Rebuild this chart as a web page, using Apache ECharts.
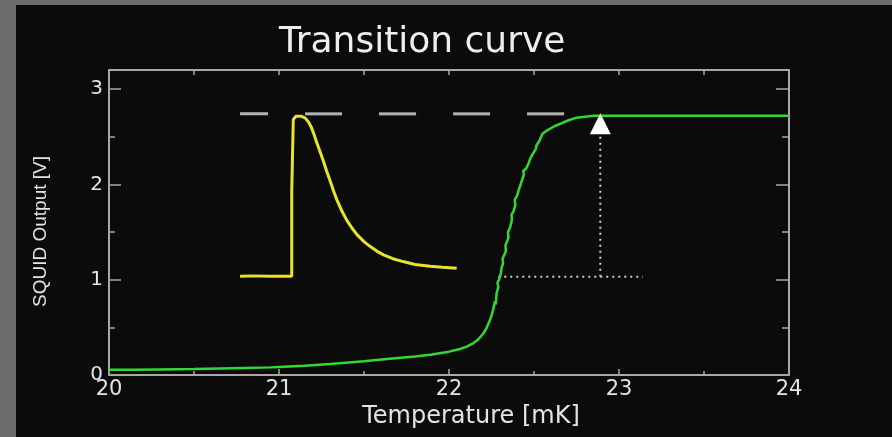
<!DOCTYPE html>
<html>
<head>
<meta charset="utf-8">
<script src="https://cdn.jsdelivr.net/npm/echarts@6/dist/echarts.min.js"></script>
<style>
  html, body { margin: 0; padding: 0; background: #6c6c6c; }
  #bg { position: absolute; left: 16px; top: 5px; width: 876px; height: 432px; background: #0b0b0b; }
  #chart { position: absolute; left: 0; top: 0; width: 892px; height: 437px; }
</style>
</head>
<body>
<div id="bg"></div>
<div id="chart"></div>
<script>
// ---- data ----
const titleText = 'Transition curve';
const xAxisTitle = 'Temperature [mK]';
const yAxisTitle = 'SQUID Output [V]';
const xTicks = [20, 21, 22, 23, 24];
const yTicks = [0, 1, 2, 3];

// Transition curve (green): temperature [mK] and SQUID output [V]
const greenT = [20.00, 20.15, 20.30, 20.50, 20.65, 20.80, 20.81, 20.95, 21.00, 21.15, 21.30, 21.31, 21.50, 21.65, 21.80, 21.90, 22.00, 22.06, 22.10, 22.14, 22.17, 22.20, 22.22, 22.235, 22.25, 22.26, 22.27, 22.275, 22.28, 22.29, 22.285, 22.295, 22.305, 22.31, 22.318, 22.315, 22.325, 22.335, 22.332, 22.34, 22.35, 22.347, 22.36, 22.37, 22.368, 22.38, 22.39, 22.387, 22.40, 22.41, 22.418, 22.425, 22.44, 22.437, 22.455, 22.47, 22.478, 22.49, 22.51, 22.515, 22.53, 22.55, 22.58, 22.62, 22.66, 22.70, 22.75, 22.80, 22.85, 23.00, 23.50, 24.00];
const greenV = [0.055, 0.055, 0.058, 0.062, 0.068, 0.074, 0.09, 0.08, 0.085, 0.097, 0.115, 0.13, 0.145, 0.17, 0.195, 0.215, 0.245, 0.27, 0.295, 0.33, 0.37, 0.43, 0.49, 0.55, 0.62, 0.69, 0.77, 0.74, 0.86, 0.92, 0.97, 1.00, 1.07, 1.13, 1.17, 1.22, 1.24, 1.30, 1.36, 1.38, 1.44, 1.50, 1.55, 1.63, 1.68, 1.72, 1.78, 1.84, 1.88, 1.94, 1.98, 2.02, 2.10, 2.14, 2.17, 2.23, 2.27, 2.31, 2.37, 2.41, 2.45, 2.53, 2.57, 2.61, 2.64, 2.67, 2.70, 2.71, 2.72, 2.72, 2.72, 2.72];

// Inset pulse (yellow), drawn in the same axes
const pulseT = [20.771, 20.85, 20.95, 21.02, 21.075, 21.075, 21.084, 21.084, 21.10, 21.13, 21.155, 21.175, 21.19, 21.205, 21.22, 21.24, 21.26, 21.28, 21.30, 21.32, 21.34, 21.37, 21.40, 21.43, 21.46, 21.50, 21.535, 21.575, 21.615, 21.67, 21.73, 21.80, 21.89, 21.96, 22.045];
const pulseV = [1.035, 1.04, 1.035, 1.037, 1.035, 1.93, 1.93, 2.68, 2.715, 2.715, 2.695, 2.65, 2.60, 2.53, 2.45, 2.35, 2.25, 2.14, 2.04, 1.935, 1.84, 1.72, 1.62, 1.54, 1.47, 1.40, 1.35, 1.30, 1.26, 1.22, 1.19, 1.16, 1.14, 1.13, 1.12];

// Saturation level (grey dashed line)
const satT = [20.771, 22.682];
const satV = [2.74, 2.74];

// Dotted construction lines and marker
const hDotT = [22.29, 23.14];
const hDotV = [1.03, 1.03];
const vDotT = [22.89, 22.89];
const vDotV = [1.03, 2.55];
const markerT = [22.89];
const markerV = [2.637];

const zip = (a, b) => a.map((v, i) => [v, b[i]]);

const chart = echarts.init(document.getElementById('chart'), null, { renderer: 'canvas' });
const frameColor = '#a8a8a8';
const textColor = '#e4e4e4';
const font = 'DejaVu Sans';

const option = {
  animation: false,
  backgroundColor: 'transparent',
  title: {
    text: titleText,
    left: 274,
    top: 20,
    textStyle: { color: '#eeeeee', fontSize: 36, fontWeight: 'normal', fontFamily: font }
  },
  grid: { left: 109, right: 103, top: 70, bottom: 62, containLabel: false },
  xAxis: [
    {
      type: 'value', position: 'bottom', min: 20, max: 24, interval: 1,
      axisLine: { show: true, onZero: false, lineStyle: { color: frameColor, width: 2 } },
      axisTick: { show: true, inside: true, length: 6, lineStyle: { color: frameColor, width: 1.5 } },
      minorTick: { show: true, splitNumber: 2, length: 4, lineStyle: { color: frameColor, width: 1.5 } },
      splitLine: { show: false },
      axisLabel: { color: textColor, fontSize: 21, fontFamily: font, margin: 4,
        customValues: xTicks, formatter: v => String(v) },
      name: xAxisTitle, nameLocation: 'middle', nameGap: 28,
      nameTextStyle: { color: textColor, fontSize: 24, fontFamily: font, padding: [0, 0, 0, 44] }
    },
    {
      type: 'value', position: 'top', min: 20, max: 24, interval: 1,
      axisLine: { show: true, onZero: false, lineStyle: { color: frameColor, width: 2 } },
      axisTick: { show: true, inside: true, length: 5, lineStyle: { color: frameColor, width: 1.5 } },
      minorTick: { show: true, splitNumber: 2, length: 5, lineStyle: { color: frameColor, width: 1.5 } },
      splitLine: { show: false },
      axisLabel: { show: false }
    }
  ],
  yAxis: [
    {
      type: 'value', position: 'left', min: 0, max: 3.2, interval: 1,
      axisLine: { show: true, onZero: false, lineStyle: { color: frameColor, width: 2 } },
      axisTick: { show: true, inside: true, length: 12, lineStyle: { color: frameColor, width: 1.5 } },
      minorTick: { show: true, splitNumber: 2, length: 6, lineStyle: { color: frameColor, width: 1.5 } },
      splitLine: { show: false },
      axisLabel: { color: textColor, fontSize: 20, fontFamily: font, margin: 6,
        customValues: yTicks, formatter: v => String(v) },
      name: yAxisTitle, nameLocation: 'middle', nameGap: 59, nameRotate: 90,
      nameTextStyle: { color: textColor, fontSize: 19, fontFamily: 'Liberation Sans', padding: [0, 18, 0, 0] }
    },
    {
      type: 'value', position: 'right', min: 0, max: 3.2, interval: 1,
      axisLine: { show: true, onZero: false, lineStyle: { color: frameColor, width: 2 } },
      axisTick: { show: true, inside: true, length: 13, lineStyle: { color: frameColor, width: 1.5 } },
      minorTick: { show: true, splitNumber: 2, length: 7, lineStyle: { color: frameColor, width: 1.5 } },
      splitLine: { show: false },
      axisLabel: { show: false }
    }
  ],
  series: [
    {
      name: 'Saturation', type: 'line', data: zip(satT, satV), showSymbol: false, silent: true, z: 1,
      lineStyle: { color: '#b4b4b4', width: 3, type: [37, 37], dashOffset: 9, cap: 'butt' }
    },
    {
      name: 'Pulse', type: 'line', data: zip(pulseT, pulseV), showSymbol: false, z: 3,
      lineStyle: { color: '#e8e42a', width: 3 }
    },
    {
      name: 'Transition', type: 'line', data: zip(greenT, greenV), showSymbol: false, z: 4,
      lineStyle: { color: '#33d933', width: 2.5 }
    },
    {
      name: 'hDot', type: 'line', data: zip(hDotT, hDotV), showSymbol: false, silent: true, z: 2,
      lineStyle: { color: '#cfcfcf', width: 2, type: [2, 4] }
    },
    {
      name: 'vDot', type: 'line', data: zip(vDotT, vDotV), showSymbol: false, silent: true, z: 2,
      lineStyle: { color: '#cfcfcf', width: 2, type: [2, 4] }
    },
    {
      name: 'Marker', type: 'scatter', data: zip(markerT, markerV), symbol: 'triangle',
      symbolSize: [21, 21], z: 5, itemStyle: { color: '#ffffff', opacity: 1 }
    }
  ]
};
chart.setOption(option);
</script>
</body>
</html>
